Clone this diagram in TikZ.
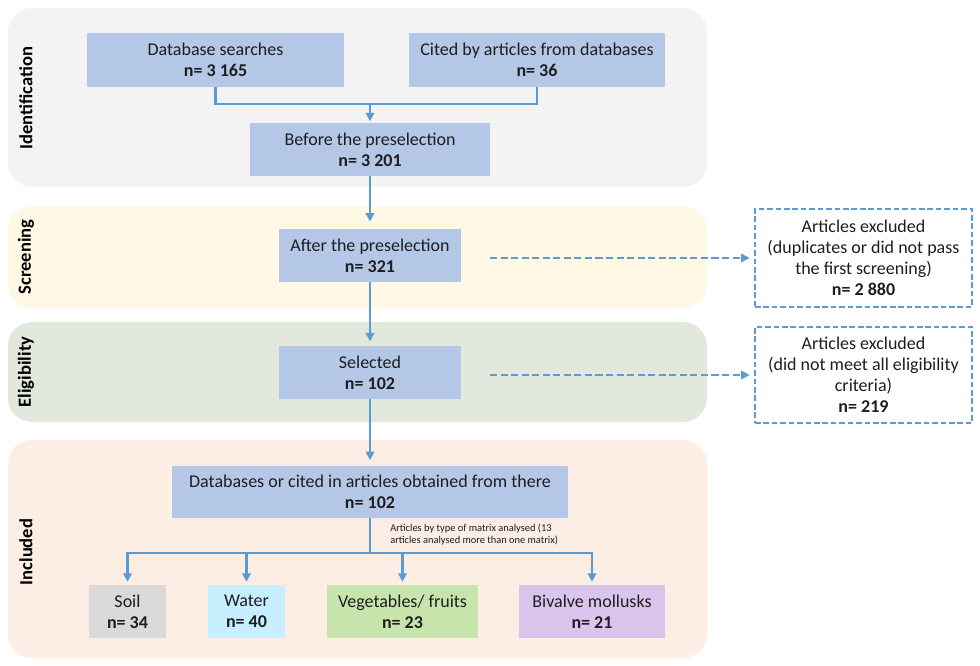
\documentclass[tikz,border=0pt]{standalone}
\usepackage{fontspec}
\setmainfont{Carlito}
\usetikzlibrary{arrows.meta}
\definecolor{flowblue}{RGB}{91,155,213}
\definecolor{boxblue}{RGB}{180,199,231}
\definecolor{bandgrey}{RGB}{243,243,243}
\definecolor{bandcream}{RGB}{255,248,228}
\definecolor{bandgreen}{RGB}{226,233,220}
\definecolor{bandpeach}{RGB}{252,237,229}
\definecolor{soilgrey}{RGB}{217,217,217}
\definecolor{watercyan}{RGB}{199,239,255}
\definecolor{veggreen}{RGB}{199,228,172}
\definecolor{mollpurple}{RGB}{219,196,236}
\definecolor{textdark}{RGB}{30,30,30}
\begin{document}
\begin{tikzpicture}[x=0.025cm, y=-0.025cm,
    bandlabel/.style={rotate=90, text=black, font=\fontsize{13.2}{15}\selectfont\bfseries},
    block/.style={fill=boxblue, align=center, inner sep=0pt, text=textdark, font=\fontsize{12.8}{15}\selectfont},
    exclbox/.style={block, fill=white, draw=flowblue, line width=1.5pt, dash pattern=on 4pt off 2pt},
    flowline/.style={draw=flowblue, line width=1.7pt},
    flowarrow/.style={flowline, -{Triangle[length=6pt,width=6pt]}, shorten >=1pt},
    dasharrow/.style={flowarrow, line width=1.6pt, dash pattern=on 5pt off 2.5pt}]
    \useasboundingbox (0,0) rectangle (980,665);
    % phase bands
    \fill [bandgrey, rounded corners=0.6cm] (8,8) rectangle (707,187);
    \fill [bandcream, rounded corners=0.6cm] (8,206) rectangle (707,308);
    \fill [bandgreen, rounded corners=0.6cm] (8,322) rectangle (707,422);
    \fill [bandpeach, rounded corners=0.6cm] (8,440) rectangle (707,658);
    \node[bandlabel] (lident) at (26,98) {Identification};
    \node[bandlabel] (lscreen) at (26,257) {Screening};
    \node[bandlabel] (lelig) at (26,372) {Eligibility};
    \node[bandlabel] (lincl) at (26,552) {Included};
    % identification
    \node[block, minimum width=6.43cm, minimum height=1.35cm] (dbsearch) at (215.5,60) {Database searches\\\textbf{n= 3 165}};
    \node[block, minimum width=6.38cm, minimum height=1.35cm] (cited) at (537,60) {Cited by articles from databases\\\textbf{n= 36}};
    \node[block, minimum width=5.98cm, minimum height=1.33cm] (before) at (370,149.5) {Before the preselection\\\textbf{n= 3 201}};
    \coordinate (merge) at (370,104);
    \draw[flowline] (dbsearch.south) |- (merge);
    \draw[flowline] (cited.south) |- (merge);
    \draw[flowarrow] (merge) -- (before.north);
    % screening and eligibility
    \node[block, minimum width=4.55cm, minimum height=1.33cm] (after) at (370,255.5) {After the preselection\\\textbf{n= 321}};
    \node[block, minimum width=4.55cm, minimum height=1.33cm] (selected) at (370,372.5) {Selected\\\textbf{n= 102}};
    \node[exclbox, minimum width=5.43cm, minimum height=2.45cm] (excl1) at (863.5,258) {Articles excluded\\(duplicates or did not pass\\the first screening)\\\textbf{n= 2 880}};
    \node[exclbox, minimum width=5.43cm, minimum height=2.4cm] (excl2) at (863.5,375) {Articles excluded\\(did not meet all eligibility\\criteria)\\\textbf{n= 219}};
    \draw[flowarrow, shorten >=5pt] (before.south) -- (after.north);
    \draw[flowarrow, shorten >=3pt] (after.south) -- (selected.north);
    \draw[dasharrow, shorten >=3pt] (490,0 |- excl1.west) -- (excl1.west);
    \draw[dasharrow, shorten >=3pt] (490,0 |- excl2.west) -- (excl2.west);
    % included
    \node[block, minimum width=9.9cm, minimum height=1.3cm] (dbcited) at (370,492) {Databases or cited in articles obtained from there\\\textbf{n= 102}};
    \draw[flowarrow, shorten >=4pt] (selected.south) -- (dbcited.north);
    \node[anchor=west, align=left, inner sep=0pt, text=textdark, font=\fontsize{7.4}{9.2}\selectfont] (matrixnote) at (390,534.5) {Articles by type of matrix analysed (13\\articles analysed more than one matrix)};
    \node[block, fill=soilgrey, minimum width=1.93cm, minimum height=1.33cm] (soil) at (127.5,611.5) {Soil\\\textbf{n= 34}};
    \node[block, fill=watercyan, minimum width=1.93cm, minimum height=1.33cm] (water) at (246.5,611.5) {Water\\\textbf{n= 40}};
    \node[block, fill=veggreen, minimum width=3.78cm, minimum height=1.33cm] (veg) at (402.5,611.5) {Vegetables/ fruits\\\textbf{n= 23}};
    \node[block, fill=mollpurple, minimum width=3.65cm, minimum height=1.33cm] (bivalve) at (592,611.5) {Bivalve mollusks\\\textbf{n= 21}};
    \coordinate (split) at (dbcited.south |- 0,553);
    \draw[flowline] (dbcited.south) -- (split);
    \foreach \m in {soil,water,veg,bivalve}
        \draw[flowarrow, shorten >=2pt] (split) -| (\m.north);
\end{tikzpicture}
\end{document}
